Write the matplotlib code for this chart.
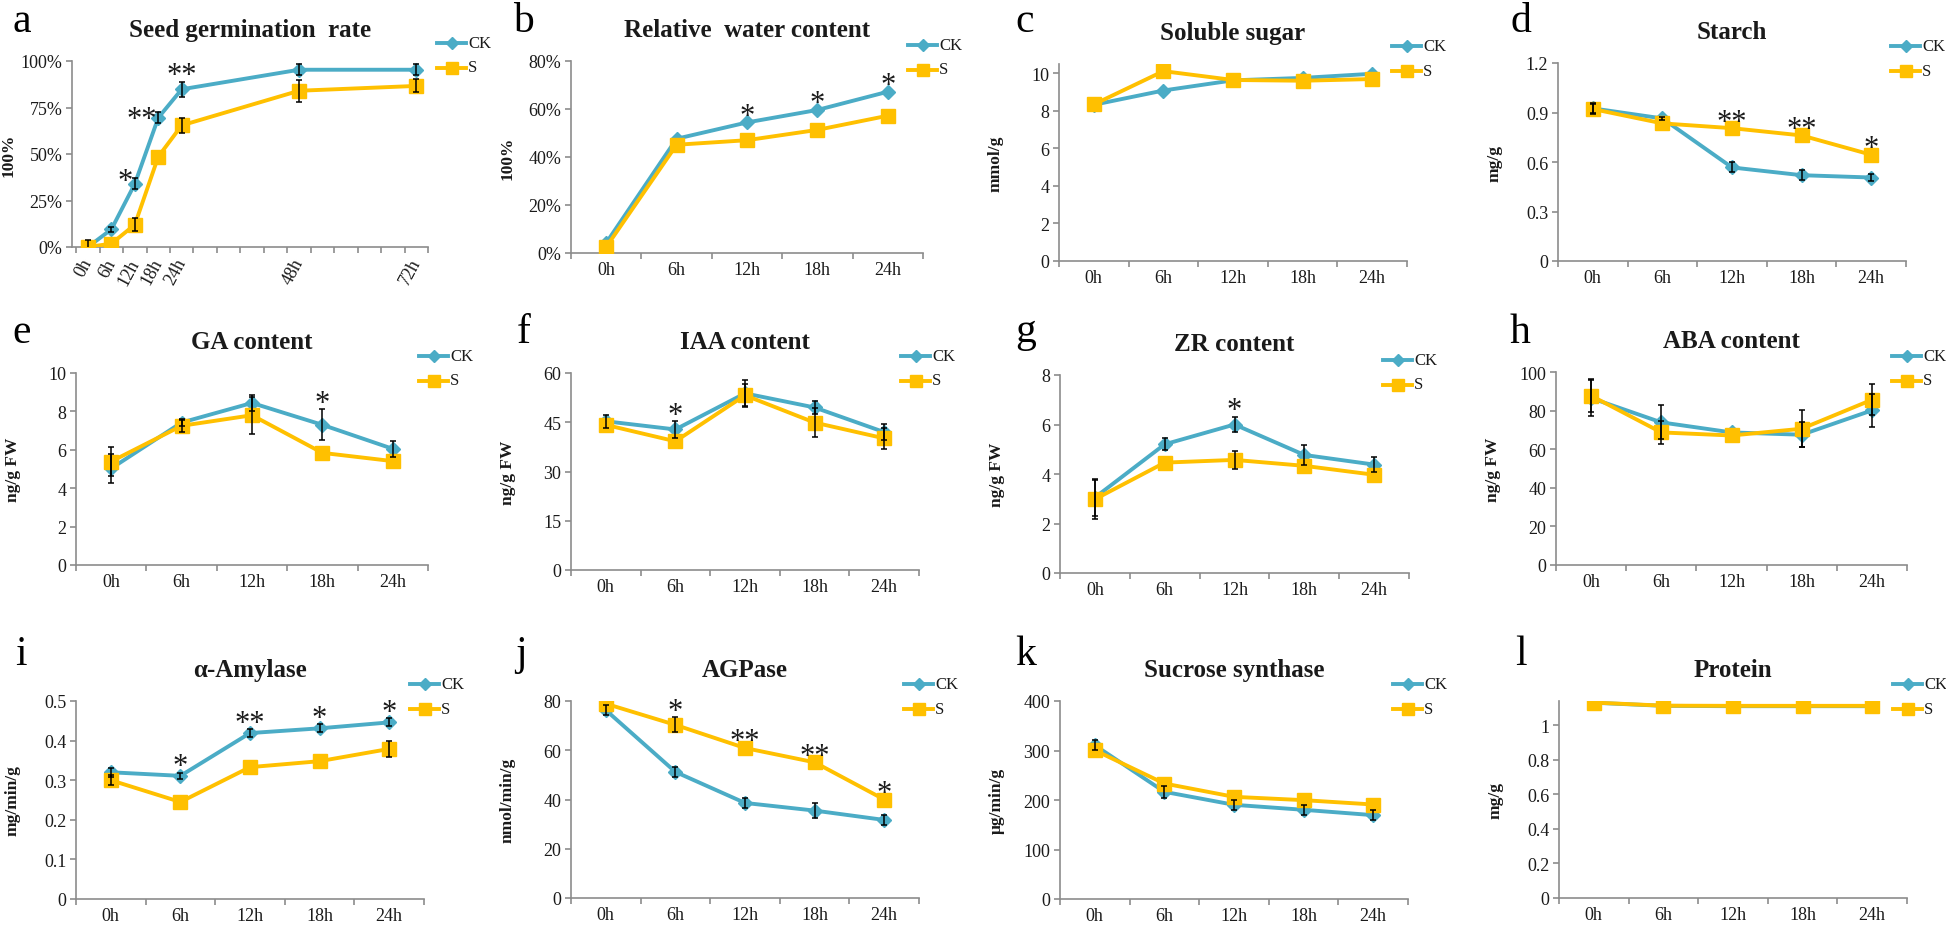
import matplotlib
matplotlib.use('Agg')
import matplotlib.pyplot as plt
from matplotlib.lines import Line2D

plt.rcParams['font.family'] = ['Liberation Serif', 'DejaVu Serif']

W, H = 1946, 929
fig = plt.figure(figsize=(W / 100, H / 100), dpi=100)

CK_COLOR = '#4BACC6'
S_COLOR = '#FFC000'
SPINE = '#8c8c8c'
TXT = '#1a1a1a'

hours5 = ['0h', '6h', '12h', '18h', '24h']
hours7 = ['0h', '6h', '12h', '18h', '24h', '48h', '72h']
slot7 = [1, 2, 3, 4, 5, 10, 15]  # category slots on panel a's axis

# ---- data ----
a_ck = [0.0, 0.095, 0.34, 0.695, 0.848, 0.953, 0.953]
a_ck_err = [0.038, 0.015, 0.03, 0.03, 0.04, 0.03, 0.03]
a_s = [0.0, 0.018, 0.12, 0.486, 0.654, 0.84, 0.866]
a_s_err = [0.0, 0.0, 0.035, 0.0, 0.04, 0.06, 0.035]
a_sig = ['', '', '*', '**', '**', '', '']

b_ck = [0.042, 0.476, 0.544, 0.596, 0.672]
b_ck_err = [0, 0, 0, 0, 0]
b_s = [0.025, 0.451, 0.47, 0.513, 0.572]
b_s_err = [0, 0, 0, 0, 0]
b_sig = ['', '', '*', '*', '*']

c_ck = [8.31, 9.07, 9.61, 9.74, 9.96]
c_ck_err = [0, 0, 0, 0, 0]
c_s = [8.33, 10.1, 9.63, 9.59, 9.68]
c_s_err = [0, 0, 0, 0, 0]
c_sig = ['', '', '', '', '']

d_ck = [0.925, 0.864, 0.567, 0.52, 0.506]
d_ck_err = [0.03, 0.01, 0.03, 0.03, 0.02]
d_s = [0.921, 0.834, 0.805, 0.761, 0.644]
d_s_err = [0.03, 0, 0, 0, 0]
d_sig = ['', '', '**', '**', '*']

e_ck = [5.03, 7.42, 8.44, 7.3, 6.05]
e_ck_err = [0.75, 0.2, 0.4, 0.8, 0.4]
e_s = [5.39, 7.25, 7.8, 5.84, 5.41]
e_s_err = [0.73, 0.3, 0.97, 0, 0]
e_sig = ['', '', '', '*', '']

f_ck = [45.3, 42.8, 53.8, 49.5, 42.0]
f_ck_err = [2.0, 2.5, 4.0, 2.0, 2.5]
f_s = [44.2, 39.2, 53.2, 44.9, 40.1]
f_s_err = [0, 0, 3.5, 4.4, 3.1]
f_sig = ['', '*', '', '', '']

g_ck = [3.05, 5.2, 6.0, 4.77, 4.38]
g_ck_err = [0.74, 0.25, 0.3, 0.4, 0.3]
g_s = [2.98, 4.46, 4.57, 4.33, 3.97]
g_s_err = [0.78, 0, 0.35, 0, 0]
g_sig = ['', '', '*', '', '']

h_ck = [86.5, 73.9, 68.7, 67.5, 80.1]
h_ck_err = [9.5, 8.8, 0, 6.5, 8.6]
h_s = [87.7, 68.7, 67.1, 70.6, 85.6]
h_s_err = [8.5, 6.0, 0, 9.5, 8.0]
h_sig = ['', '', '', '', '']

i_ck = [0.32, 0.311, 0.419, 0.431, 0.446]
i_ck_err = [0.012, 0.008, 0.01, 0.01, 0.01]
i_s = [0.30, 0.245, 0.333, 0.348, 0.379]
i_s_err = [0.013, 0, 0, 0, 0.02]
i_sig = ['', '*', '**', '*', '*']

j_ck = [76.3, 51.2, 38.6, 35.5, 31.7]
j_ck_err = [2.0, 2.0, 2.0, 3.0, 2.0]
j_s = [78.9, 70.3, 60.9, 55.1, 40.0]
j_s_err = [0, 3.0, 0, 0, 0]
j_sig = ['', '*', '**', '**', '*']

k_ck = [310.6, 216.5, 190.3, 180.2, 169.4]
k_ck_err = [10, 12, 10, 10, 10]
k_s = [300.5, 233.3, 206.4, 199.7, 190.9]
k_s_err = [0, 0, 0, 0, 0]
k_sig = ['', '', '', '', '']

l_ck = [1.13, 1.112, 1.11, 1.11, 1.11]
l_ck_err = [0, 0, 0, 0, 0]
l_s = [1.131, 1.113, 1.112, 1.112, 1.112]
l_s_err = [0, 0, 0, 0, 0]
l_sig = ['', '', '', '', '']

# ---- layout (pixel boxes: left, right, top, bottom) ----
panels = [
    dict(letter='a', lx=12, ly=32, box=(72, 428, 62, 248), title='Seed germination  rate', ylabel='100%',
         ylim=(0, 1), yticks=[0, 0.25, 0.5, 0.75, 1.0], ylabels=['0%', '25%', '50%', '75%', '100%'],
         ck=a_ck, cke=a_ck_err, s=a_s, se=a_s_err, sig=a_sig, leg=(437, 44)),
    dict(letter='b', lx=513, ly=32, box=(571, 923, 62, 254), title='Relative  water content', ylabel='100%',
         ylim=(0, 0.8), yticks=[0, 0.2, 0.4, 0.6, 0.8], ylabels=['0%', '20%', '40%', '60%', '80%'],
         ck=b_ck, cke=b_ck_err, s=b_s, se=b_s_err, sig=b_sig, leg=(908, 46)),
    dict(letter='c', lx=1015, ly=32, box=(1059, 1407, 65, 262), title='Soluble sugar', ylabel='mmol/g',
         ylim=(0, 10.48), yticks=[0, 2, 4, 6, 8, 10], ylabels=['0', '2', '4', '6', '8', '10'],
         ck=c_ck, cke=c_ck_err, s=c_s, se=c_s_err, sig=c_sig, leg=(1392, 47)),
    dict(letter='d', lx=1510, ly=32, box=(1558, 1906, 64, 262), title='Starch', ylabel='mg/g',
         ylim=(0, 1.2), yticks=[0, 0.3, 0.6, 0.9, 1.2], ylabels=['0', '0.3', '0.6', '0.9', '1.2'],
         ck=d_ck, cke=d_ck_err, s=d_s, se=d_s_err, sig=d_sig, leg=(1891, 47)),
    dict(letter='e', lx=12, ly=343, box=(76, 428, 374, 566), title='GA content', ylabel='ng/g FW',
         ylim=(0, 10), yticks=[0, 2, 4, 6, 8, 10], ylabels=['0', '2', '4', '6', '8', '10'],
         ck=e_ck, cke=e_ck_err, s=e_s, se=e_s_err, sig=e_sig, leg=(419, 357)),
    dict(letter='f', lx=517, ly=343, box=(571, 919, 374, 571), title='IAA content', ylabel='ng/g FW',
         ylim=(0, 60), yticks=[0, 15, 30, 45, 60], ylabels=['0', '15', '30', '45', '60'],
         ck=f_ck, cke=f_ck_err, s=f_s, se=f_s_err, sig=f_sig, leg=(901, 357)),
    dict(letter='g', lx=1015, ly=342, box=(1060, 1409, 376, 574), title='ZR content', ylabel='ng/g FW',
         ylim=(0, 8), yticks=[0, 2, 4, 6, 8], ylabels=['0', '2', '4', '6', '8'],
         ck=g_ck, cke=g_ck_err, s=g_s, se=g_s_err, sig=g_sig, leg=(1383, 361)),
    dict(letter='h', lx=1510, ly=343, box=(1556, 1907, 373, 566), title='ABA content', ylabel='ng/g FW',
         ylim=(0, 100), yticks=[0, 20, 40, 60, 80, 100], ylabels=['0', '20', '40', '60', '80', '100'],
         ck=h_ck, cke=h_ck_err, s=h_s, se=h_s_err, sig=h_sig, leg=(1892, 357)),
    dict(letter='i', lx=15, ly=665, box=(76, 424, 702, 900), title='α-Amylase', ylabel='mg/min/g',
         ylim=(0, 0.5), yticks=[0, 0.1, 0.2, 0.3, 0.4, 0.5], ylabels=['0', '0.1', '0.2', '0.3', '0.4', '0.5'],
         ck=i_ck, cke=i_ck_err, s=i_s, se=i_s_err, sig=i_sig, leg=(410, 685)),
    dict(letter='j', lx=515, ly=665, box=(571, 919, 702, 899), title='AGPase', ylabel='nmol/min/g',
         ylim=(0, 80), yticks=[0, 20, 40, 60, 80], ylabels=['0', '20', '40', '60', '80'],
         ck=j_ck, cke=j_ck_err, s=j_s, se=j_s_err, sig=j_sig, leg=(904, 685)),
    dict(letter='k', lx=1015, ly=665, box=(1060, 1408, 702, 900), title='Sucrose synthase', ylabel='μg/min/g',
         ylim=(0, 400), yticks=[0, 100, 200, 300, 400], ylabels=['0', '100', '200', '300', '400'],
         ck=k_ck, cke=k_ck_err, s=k_s, se=k_s_err, sig=k_sig, leg=(1393, 685)),
    dict(letter='l', lx=1515, ly=665, box=(1559, 1907, 702, 899), title='Protein', ylabel='mg/g',
         ylim=(0, 1.14), yticks=[0, 0.2, 0.4, 0.6, 0.8, 1.0], ylabels=['0', '0.2', '0.4', '0.6', '0.8', '1'],
         ck=l_ck, cke=l_ck_err, s=l_s, se=l_s_err, sig=l_sig, leg=(1893, 685)),
]

# star offsets (points) for panel a where stars sit left of the point
a_star_offsets = {2: (-7, -7), 3: (-12, -10)}

CK_MS = 7
S_MS = 9.5
LW = 2.8


def add_legend(x0, y0):
    for k, (lab, col, mk, ms) in enumerate([('CK', CK_COLOR, 'D', CK_MS - 1), ('S', S_COLOR, 's', S_MS - 1)]):
        y = 1 - (y0 + k * 24.5) / H
        fig.add_artist(Line2D([x0 / W, (x0 + 29) / W], [y, y], color=col, lw=LW,
                              transform=fig.transFigure))
        fig.add_artist(Line2D([(x0 + 14.5) / W], [y], color=col, marker=mk, ms=ms, lw=0,
                              transform=fig.transFigure))
        fig.text((x0 + 31) / W, y, lab, fontsize=12, va='center', ha='left', color=TXT)


def draw_err(ax, xs, vals, errs):
    xe = [x for x, e in zip(xs, errs) if e > 0]
    ve = [v for v, e in zip(vals, errs) if e > 0]
    ee = [e for e in errs if e > 0]
    if xe:
        ax.errorbar(xe, ve, yerr=ee, fmt='none', ecolor='black', elinewidth=1.1,
                    capsize=2.5, capthick=1.1, zorder=5)


for idx, p in enumerate(panels):
    l, r, t, b = p['box']
    ax = fig.add_axes([l / W, 1 - b / H, (r - l) / W, (b - t) / H])
    n = len(p['ck'])
    if idx == 0:
        xs = slot7
        ax.set_xlim(0.32, 15.5)
        ax.set_xticks([k + 0.5 for k in range(16)])
        ax.set_xticks(xs, minor=True)
        ax.set_xticklabels([], minor=False)
        ax.set_xticklabels(hours7, minor=True, rotation=62, ha='right', va='center',
                           rotation_mode='anchor')
    else:
        xs = [k + 0.5 for k in range(n)]
        ax.set_xlim(0, n)
        ax.set_xticks(range(n + 1))
        ax.set_xticklabels([])
        ax.set_xticks(xs, minor=True)
        ax.set_xticklabels(hours5, minor=True)

    ax.plot(xs, p['ck'], color=CK_COLOR, lw=LW, marker='D', ms=CK_MS, zorder=3)
    ax.plot(xs, p['s'], color=S_COLOR, lw=LW, marker='s', ms=S_MS, zorder=4)
    draw_err(ax, xs, p['ck'], p['cke'])
    draw_err(ax, xs, p['s'], p['se'])

    for k, sg in enumerate(p['sig']):
        if not sg:
            continue
        top = max(p['ck'][k] + p['cke'][k], p['s'][k] + p['se'][k])
        dx, dy = (a_star_offsets.get(k, (0, 0)) if idx == 0 else (0, 0))
        ax.annotate(sg, (xs[k], top), xytext=(dx, dy - 1), textcoords='offset points',
                    ha='center', va='baseline', fontsize=22, color=TXT, zorder=6)

    ax.set_ylim(*p['ylim'])
    ax.set_yticks(p['yticks'])
    ax.set_yticklabels(p['ylabels'])

    for sp in ['top', 'right']:
        ax.spines[sp].set_visible(False)
    for sp in ['left', 'bottom']:
        ax.spines[sp].set_color(SPINE)
        ax.spines[sp].set_linewidth(1.2)
    ax.tick_params(axis='both', which='major', direction='out', length=4, width=1.2,
                   color=SPINE, labelsize=13, labelcolor=TXT)
    ax.tick_params(axis='x', which='minor', length=0, labelsize=13, labelcolor=TXT,
                   pad=(9 if idx == 0 else 6))
    ax.tick_params(axis='y', which='minor', left=False)
    ax.tick_params(axis='y', pad=3)

    ax.set_title(p['title'], fontsize=18, fontweight='bold', pad=18, color=TXT)
    ax.set_ylabel(p['ylabel'], fontsize=12.5, fontweight='bold', color=TXT)
    ax.yaxis.set_label_coords(-55 / (r - l), 0.5)

    fig.text(p['lx'] / W, 1 - p['ly'] / H, p['letter'], fontsize=30, va='baseline', ha='left',
             color='black')
    add_legend(*p['leg'])

fig.savefig('out.png', dpi=100, facecolor='white')
